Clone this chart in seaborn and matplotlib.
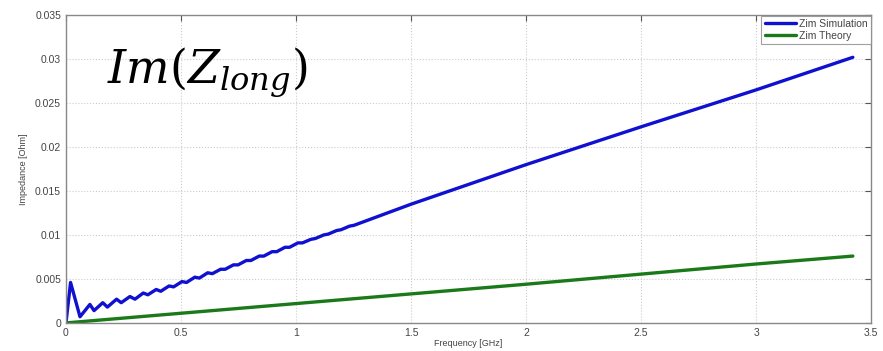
import numpy as np
import pandas as pd
import matplotlib
matplotlib.use("Agg")
import matplotlib.pyplot as plt
import seaborn as sns

# values
sim_freq = [0.000, 0.020, 0.061, 0.104, 0.122, 0.160, 0.180, 0.220, 0.240, 0.278,
            0.300, 0.336, 0.356, 0.392, 0.412, 0.448, 0.468, 0.504, 0.524, 0.560,
            0.580, 0.616, 0.636, 0.672, 0.692, 0.728, 0.748, 0.784, 0.804, 0.840,
            0.860, 0.896, 0.916, 0.952, 0.972, 1.008, 1.028, 1.064, 1.084, 1.120,
            1.140, 1.176, 1.196, 1.232, 1.252, 1.500, 2.000, 2.500, 3.000, 3.420]
sim_imp = [0.0000, 0.0046, 0.0007, 0.0021, 0.0014, 0.0023, 0.0018, 0.0027, 0.0023, 0.0030,
           0.0027, 0.0034, 0.0032, 0.0038, 0.0036, 0.0042, 0.0041, 0.0047, 0.0046, 0.0052,
           0.0051, 0.0057, 0.0056, 0.0061, 0.0061, 0.0066, 0.0066, 0.0071, 0.0071, 0.0076,
           0.0076, 0.0081, 0.0081, 0.0086, 0.0086, 0.0091, 0.0091, 0.0095, 0.0096, 0.0100,
           0.0101, 0.0105, 0.0106, 0.0110, 0.0111, 0.0135, 0.0180, 0.0223, 0.0265, 0.0302]

theory_freq = [0.0, 1.0, 2.0, 3.0, 3.42]
theory_imp = [0.0, 0.0022, 0.0044, 0.0067, 0.0076]

x_ticks = [0, 0.5, 1, 1.5, 2, 2.5, 3, 3.5]
x_labels = ["0", "0.5", "1", "1.5", "2", "2.5", "3", "3.5"]
y_ticks = [0, 0.005, 0.01, 0.015, 0.02, 0.025, 0.03, 0.035]
y_labels = ["0", "0.005", "0.01", "0.015", "0.02", "0.025", "0.03", "0.035"]

sns.set_style("white")
plt.rcParams["font.family"] = ["Liberation Sans", "DejaVu Sans"]
plt.rcParams["mathtext.fontset"] = "dejavuserif"

sim = pd.DataFrame({"freq": sim_freq, "imp": sim_imp})
theory = pd.DataFrame({"freq": theory_freq, "imp": theory_imp})

fig = plt.figure(figsize=(8.83, 3.51), dpi=100)
ax = fig.add_axes([0.0747, 0.080, 0.912, 0.877])

sns.lineplot(data=sim, x="freq", y="imp", ax=ax, color="#1010d0", lw=2.4,
             label="Zim Simulation", estimator=None, sort=False)
sns.lineplot(data=theory, x="freq", y="imp", ax=ax, color="#1a7a1a", lw=2.4,
             label="Zim Theory", estimator=None, sort=False)

ax.set_xlim(0, 3.5)
ax.set_ylim(0, 0.035)
ax.set_xticks(x_ticks, x_labels)
ax.set_yticks(y_ticks, y_labels)
ax.tick_params(direction="in", length=4, labelsize=7.5, colors="#555555",
               top=True, right=True, labelcolor="#444444")
ax.grid(True, color="#cccccc", linestyle=":", lw=0.8)
for s in ax.spines.values():
    s.set_color("#888888")
    s.set_linewidth(1.0)

ax.set_xlabel("Frequency [GHz]", fontsize=6.5, color="#444444", labelpad=1)
ax.set_ylabel("Impedance [Ohm]", fontsize=6.5, color="#444444", labelpad=5)

leg = ax.legend(loc="upper right", fontsize=7.5, frameon=True, fancybox=False,
                handlelength=3.0, borderpad=0.3, labelspacing=0.2,
                borderaxespad=0.05, handletextpad=0.3)
leg.get_frame().set_edgecolor("#888888")
leg.get_frame().set_linewidth(0.8)
for t in leg.get_texts():
    t.set_color("#444444")

fig.text(0.121, 0.765, r"$Im(Z_{long})$", fontsize=33, color="black")

fig.savefig("out.png", dpi=100)
